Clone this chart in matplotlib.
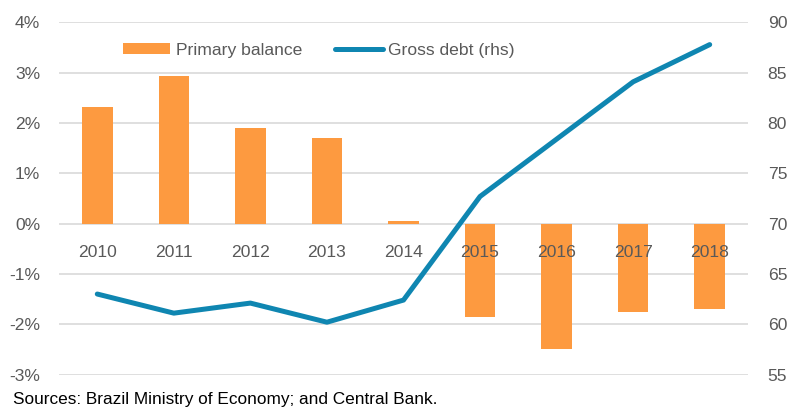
import matplotlib.pyplot as plt
from matplotlib.patches import Patch
from matplotlib.lines import Line2D

# Data
years = ["2010", "2011", "2012", "2013", "2014", "2015", "2016", "2017", "2018"]
primary_balance = [2.32, 2.94, 1.91, 1.71, 0.05, -1.86, -2.50, -1.76, -1.69]  # % of GDP
gross_debt = [63.0, 61.1, 62.1, 60.2, 62.4, 72.7, 78.4, 84.1, 87.8]  # rhs

orange = "#FD9A40"
blue = "#0F86B1"
grey = "#595959"

plt.rcParams["font.family"] = ["Liberation Sans", "DejaVu Sans"]

fig = plt.figure(figsize=(7.91, 4.08), dpi=100)
ax = fig.add_axes([0.0746, 0.0821, 0.8710, 0.8628])
ax2 = ax.twinx()

x = range(len(years))
ax.set_ylim(-3, 4)
ax.set_yticks(range(-3, 5))
ax.set_yticklabels([f"{v}%" for v in range(-3, 5)])

# gridlines under the bars, year labels over them
for v in range(-3, 5):
    ax.axhline(v, color="#D9D9D9", linewidth=1.2, zorder=0)
ax.bar(x, primary_balance, width=0.40, color=orange, zorder=1)
ax.xaxis.set_zorder(3)

ax2.plot(x, gross_debt, color=blue, linewidth=3.6, solid_capstyle="round",
         solid_joinstyle="round")

ax.set_xlim(-0.5, len(years) - 0.5)
ax2.set_ylim(55, 90)
ax2.set_yticks(range(55, 91, 5))

# category labels sit just under the zero line
ax.set_xticks(list(x))
ax.set_xticklabels(years)
ax.spines["bottom"].set_position(("data", 0))
for a in (ax, ax2):
    for s in a.spines.values():
        s.set_visible(False)
ax.tick_params(axis="x", length=0, pad=15.5, labelsize=12.6, labelcolor=grey)
ax.tick_params(axis="y", length=0, pad=13.5, labelsize=12.6, labelcolor=grey)
ax2.tick_params(axis="y", length=0, pad=14.2, labelsize=12.6, labelcolor=grey)

handles = [Patch(facecolor=orange, edgecolor="none"),
           Line2D([0], [0], color=blue, linewidth=3.6, solid_capstyle="round")]
fig.legend(handles, ["Primary balance", "Gross debt (rhs)"], loc="center",
           bbox_to_anchor=(0.403, 0.876), ncol=2, frameon=False,
           fontsize=12.6, labelcolor=grey, handlelength=2.7, handleheight=0.6,
           columnspacing=1.9, handletextpad=0.3)

fig.text(0.016, 0.022, "Sources: Brazil Ministry of Economy; and Central Bank.",
         fontsize=12.4, color="black", ha="left", va="center")

fig.savefig("out.png", dpi=100)
